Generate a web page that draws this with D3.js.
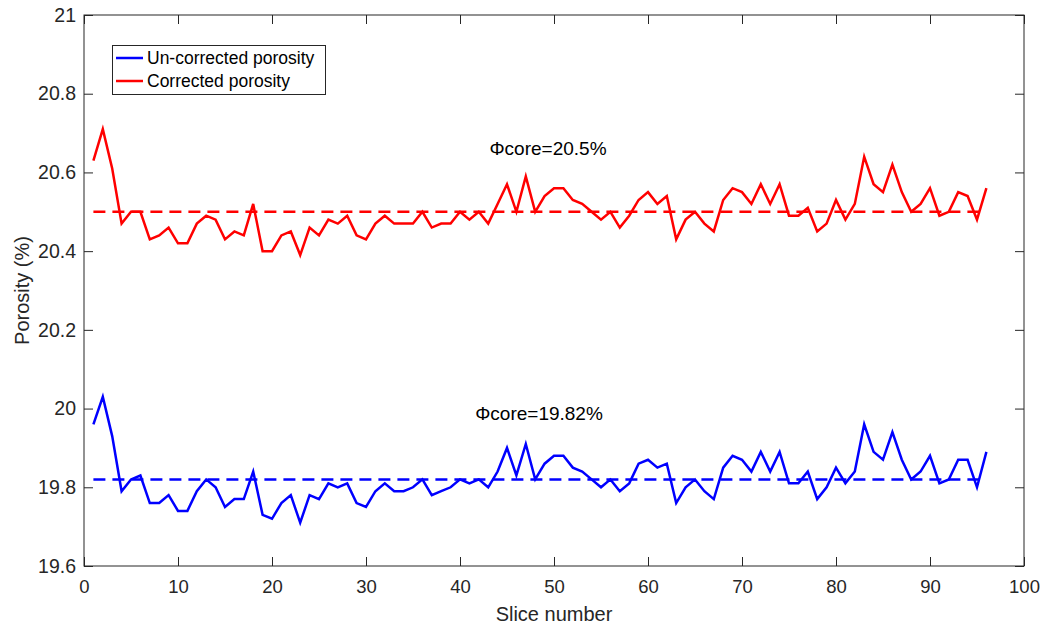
<!DOCTYPE html>
<html>
<head>
<meta charset="utf-8">
<script src="https://cdn.jsdelivr.net/npm/d3@7"></script>
<style>
  html, body { margin: 0; padding: 0; background: #fff; }
  svg { display: block; font-family: "Liberation Sans", Arial, Helvetica, sans-serif; }
</style>
</head>
<body>
<svg id="chart" width="1043" height="628"></svg>
<script>
// Porosity per slice, before and after correction
const uncorrected = [
  19.96, 20.03, 19.93, 19.79, 19.82, 19.83, 19.76, 19.76, 19.78, 19.74,
  19.74, 19.79, 19.82, 19.80, 19.75, 19.77, 19.77, 19.84, 19.73, 19.72,
  19.76, 19.78, 19.71, 19.78, 19.77, 19.81, 19.80, 19.81, 19.76, 19.75,
  19.79, 19.81, 19.79, 19.79, 19.80, 19.82, 19.78, 19.79, 19.80, 19.82,
  19.81, 19.82, 19.80, 19.84, 19.90, 19.83, 19.91, 19.82, 19.86, 19.88,
  19.88, 19.85, 19.84, 19.82, 19.80, 19.82, 19.79, 19.81, 19.86, 19.87,
  19.85, 19.86, 19.76, 19.80, 19.82, 19.79, 19.77, 19.85, 19.88, 19.87,
  19.84, 19.89, 19.84, 19.89, 19.81, 19.81, 19.84, 19.77, 19.80, 19.85,
  19.81, 19.84, 19.96, 19.89, 19.87, 19.94, 19.87, 19.82, 19.84, 19.88,
  19.81, 19.82, 19.87, 19.87, 19.80, 19.89
];
const corrected = [
  20.63, 20.71, 20.61, 20.47, 20.50, 20.50, 20.43, 20.44, 20.46, 20.42,
  20.42, 20.47, 20.49, 20.48, 20.43, 20.45, 20.44, 20.52, 20.40, 20.40,
  20.44, 20.45, 20.39, 20.46, 20.44, 20.48, 20.47, 20.49, 20.44, 20.43,
  20.47, 20.49, 20.47, 20.47, 20.47, 20.50, 20.46, 20.47, 20.47, 20.50,
  20.48, 20.50, 20.47, 20.52, 20.57, 20.50, 20.59, 20.50, 20.54, 20.56,
  20.56, 20.53, 20.52, 20.50, 20.48, 20.50, 20.46, 20.49, 20.53, 20.55,
  20.52, 20.54, 20.43, 20.48, 20.50, 20.47, 20.45, 20.53, 20.56, 20.55,
  20.52, 20.57, 20.52, 20.57, 20.49, 20.49, 20.51, 20.45, 20.47, 20.53,
  20.48, 20.52, 20.64, 20.57, 20.55, 20.62, 20.55, 20.50, 20.52, 20.56,
  20.49, 20.50, 20.55, 20.54, 20.48, 20.56
];
const coreUncorrected = 19.82;
const coreCorrected = 20.5;
const seriesNames = ["Un-corrected porosity", "Corrected porosity"];
const xTicks = [0, 10, 20, 30, 40, 50, 60, 70, 80, 90, 100];
const yTicks = [19.6, 19.8, 20, 20.2, 20.4, 20.6, 20.8, 21];

const svg = d3.select("#chart");
const m = { left: 84, right: 1024, top: 15, bottom: 566 };
const axisColor = "#262626";
const lineWidth = 2.5;

const x = d3.scaleLinear().domain([0, 100]).range([m.left, m.right]);
const y = d3.scaleLinear().domain([19.6, 21]).range([m.bottom, m.top]);

// Axes with inward ticks on all four sides
const tickLen = 9;
const fmtY = d => d3.format("")(+d.toFixed(1));

const gx = svg.append("g").attr("transform", `translate(0,${m.bottom})`)
  .call(d3.axisBottom(x).tickValues(xTicks).tickSizeInner(-tickLen).tickSizeOuter(0).tickPadding(14));
const gxTop = svg.append("g").attr("transform", `translate(0,${m.top})`)
  .call(d3.axisTop(x).tickValues(xTicks).tickSizeInner(-tickLen).tickSizeOuter(0).tickFormat(""));
const gy = svg.append("g").attr("transform", `translate(${m.left},0)`)
  .call(d3.axisLeft(y).tickValues(yTicks).tickSizeInner(-tickLen).tickSizeOuter(0).tickPadding(8).tickFormat(fmtY));
const gyRight = svg.append("g").attr("transform", `translate(${m.right},0)`)
  .call(d3.axisRight(y).tickValues(yTicks).tickSizeInner(-tickLen).tickSizeOuter(0).tickFormat(""));

[gx, gxTop, gy, gyRight].forEach(g => {
  g.select(".domain").remove();
  g.selectAll(".tick line").attr("stroke", axisColor).attr("stroke-width", 1);
  g.selectAll(".tick text").attr("fill", axisColor).attr("font-family", "'Liberation Sans', Arial, sans-serif");
});
gx.selectAll(".tick text").attr("font-size", 18.5);
gy.selectAll(".tick text").attr("font-size", 19.5);

// Plot box
svg.append("rect")
  .attr("x", m.left).attr("y", m.top)
  .attr("width", m.right - m.left).attr("height", m.bottom - m.top)
  .attr("fill", "none").attr("stroke", axisColor).attr("stroke-width", 1);

// Axis titles
svg.append("text")
  .attr("x", (m.left + m.right) / 2).attr("y", 621)
  .attr("text-anchor", "middle").attr("font-size", 20).attr("fill", axisColor)
  .text("Slice number");
svg.append("text")
  .attr("transform", `translate(29,${(m.top + m.bottom) / 2}) rotate(-90)`)
  .attr("text-anchor", "middle").attr("font-size", 20).attr("fill", axisColor)
  .text("Porosity (%)");

// Core reference levels
const idx = d3.range(1, uncorrected.length + 1);
const firstX = idx[0], lastX = idx[idx.length - 1];
[[coreUncorrected, "#0000ff"], [coreCorrected, "#ff0000"]].forEach(([v, c]) => {
  svg.append("line")
    .attr("x1", x(firstX)).attr("x2", x(lastX))
    .attr("y1", y(v)).attr("y2", y(v))
    .attr("stroke", c).attr("stroke-width", lineWidth)
    .attr("stroke-dasharray", "12,7");
});

// Porosity curves
const line = d3.line().x((d, i) => x(i + 1)).y(d => y(d));
svg.append("path").datum(uncorrected)
  .attr("d", line).attr("fill", "none")
  .attr("stroke", "#0000ff").attr("stroke-width", lineWidth).attr("stroke-linejoin", "miter");
svg.append("path").datum(corrected)
  .attr("d", line).attr("fill", "none")
  .attr("stroke", "#ff0000").attr("stroke-width", lineWidth).attr("stroke-linejoin", "miter");

// Annotations
svg.append("text")
  .attr("x", 548).attr("y", 155).attr("text-anchor", "middle")
  .attr("font-size", 19).attr("fill", "#000")
  .text("\u03A6core=" + coreCorrected + "%");
svg.append("text")
  .attr("x", 539).attr("y", 420).attr("text-anchor", "middle")
  .attr("font-size", 19).attr("fill", "#000")
  .text("\u03A6core=" + coreUncorrected + "%");

// Legend
const lg = svg.append("g");
lg.append("rect")
  .attr("x", 112.5).attr("y", 45.5).attr("width", 213).attr("height", 49)
  .attr("fill", "#fff").attr("stroke", axisColor).attr("stroke-width", 1);
const legendColors = ["#0000ff", "#ff0000"];
seriesNames.forEach((name, i) => {
  const yy = 58 + i * 23;
  lg.append("line")
    .attr("x1", 116).attr("x2", 143).attr("y1", yy).attr("y2", yy)
    .attr("stroke", legendColors[i]).attr("stroke-width", lineWidth);
  lg.append("text")
    .attr("x", 147).attr("y", yy + 6)
    .attr("font-size", 17.5).attr("fill", "#000")
    .text(name);
});
</script>
</body>
</html>
